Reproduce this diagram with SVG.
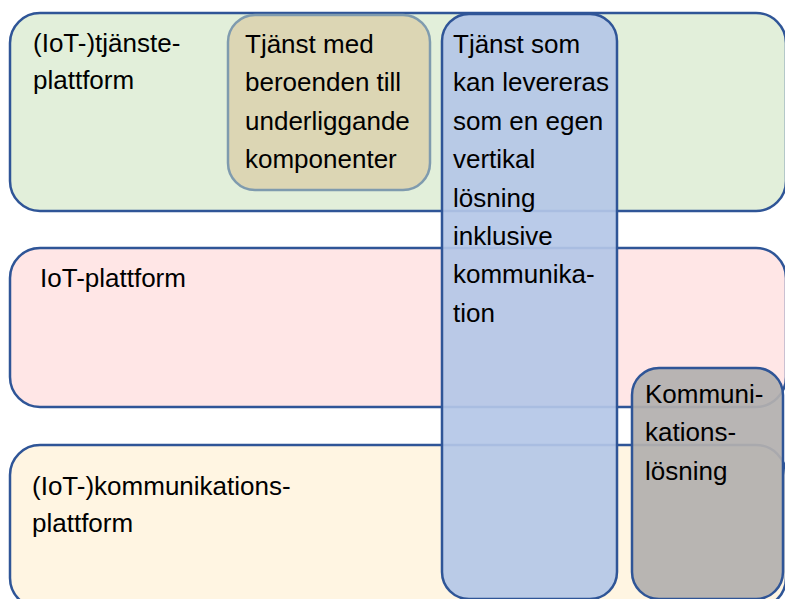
<svg xmlns="http://www.w3.org/2000/svg" width="785" height="599" viewBox="0 0 785 599">
  <style>
    .box { stroke: #2F5597; stroke-width: 2.5; }
    .lbl { font-family: "Liberation Sans", Arial, sans-serif; font-size: 26px; fill: #000; }
  </style>
  <rect width="785" height="599" fill="#FFFFFF"/>

  <!-- horizontal platform layers -->
  <g id="tjansteplattform">
    <rect class="box" x="10" y="13" width="776" height="198" rx="30" fill="#E2EFDA"/>
    <text class="lbl" x="33" y="52">(IoT-)tjänste-</text>
    <text class="lbl" x="33" y="89">plattform</text>
  </g>

  <g id="iot-plattform">
    <rect class="box" x="10" y="248" width="776" height="159" rx="30" fill="#FFE6E6"/>
    <text class="lbl" x="40" y="287">IoT-plattform</text>
  </g>

  <g id="kommunikationsplattform">
    <rect class="box" x="10" y="445" width="776" height="163" rx="30" fill="#FFF5E2"/>
    <text class="lbl" x="32" y="495">(IoT-)kommunikations-</text>
    <text class="lbl" x="32" y="532">plattform</text>
  </g>

  <!-- dependent service -->
  <g id="tjanst-beroenden">
    <rect x="228" y="15" width="202" height="175" rx="27" fill="#DCD6B4" stroke="#7F9BAE" stroke-width="2.5"/>
    <text class="lbl" x="245" y="53">Tjänst med</text>
    <text class="lbl" x="245" y="91">beroenden till</text>
    <text class="lbl" x="245" y="130">underliggande</text>
    <text class="lbl" x="245" y="168">komponenter</text>
  </g>

  <!-- vertical solution spanning all layers -->
  <g id="vertikal-losning">
    <rect class="box" x="442" y="14" width="175" height="585" rx="27" fill="#B4C7E7" fill-opacity="0.92"/>
    <text class="lbl" x="453" y="53">Tjänst som</text>
    <text class="lbl" x="453" y="91">kan levereras</text>
    <text class="lbl" x="453" y="130">som en egen</text>
    <text class="lbl" x="453" y="168">vertikal</text>
    <text class="lbl" x="453" y="207">lösning</text>
    <text class="lbl" x="453" y="245">inklusive</text>
    <text class="lbl" x="453" y="283">kommunika-</text>
    <text class="lbl" x="453" y="322">tion</text>
  </g>

  <!-- communication solution -->
  <g id="kommunikationslosning">
    <rect class="box" x="632" y="368" width="151" height="231" rx="27" fill="#B3AFAE" fill-opacity="0.93"/>
    <text class="lbl" x="645" y="403">Kommuni-</text>
    <text class="lbl" x="645" y="441">kations-</text>
    <text class="lbl" x="645" y="480">lösning</text>
  </g>
</svg>
